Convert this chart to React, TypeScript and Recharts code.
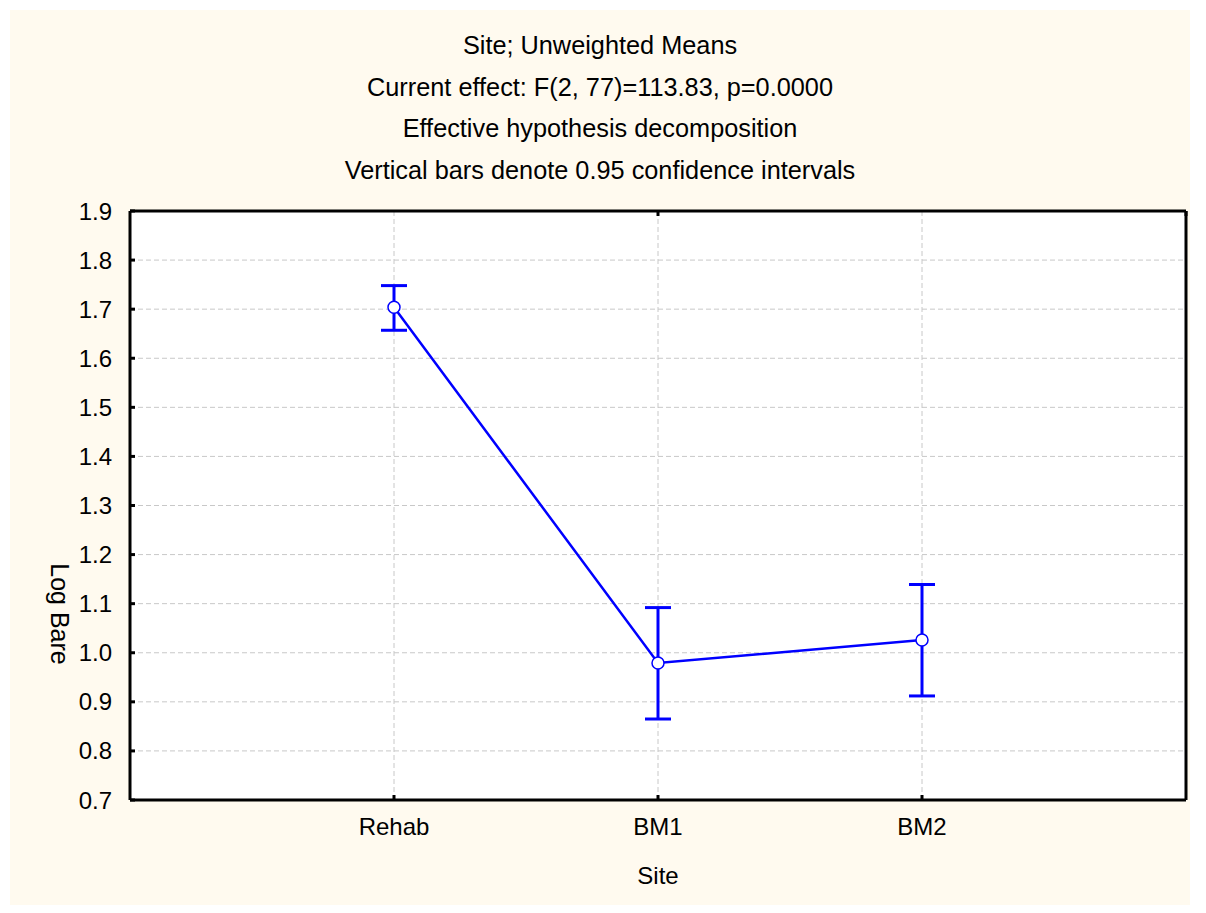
import React from 'react';
import { ComposedChart, Line, XAxis, YAxis, CartesianGrid, ErrorBar } from 'recharts';

// Unweighted means of Log Bare by site, with 0.95 confidence limits
const sites = ['Rehab', 'BM1', 'BM2'];
const sitePositions = [1, 2, 3];
const means = [1.704, 0.979, 1.026];
const lowerCI = [1.657, 0.865, 0.912];
const upperCI = [1.748, 1.092, 1.139];
const yTicks = [0.7, 0.8, 0.9, 1.0, 1.1, 1.2, 1.3, 1.4, 1.5, 1.6, 1.7, 1.8, 1.9];
const titleLines = [
  'Site; Unweighted Means',
  'Current effect: F(2, 77)=113.83, p=0.0000',
  'Effective hypothesis decomposition',
  'Vertical bars denote 0.95 confidence intervals',
];

const data = sites.map((site, i) => ({
  pos: sitePositions[i],
  site,
  mean: means[i],
  ci: [means[i] - lowerCI[i], upperCI[i] - means[i]],
}));

const FONT = '"Liberation Sans", Arial, Helvetica, sans-serif';
const BLUE = '#0000ff';
const tickStyle = { fill: '#000', fontSize: 24, fontFamily: FONT };
const emptyTick = () => <g />;

export default function App() {
  return (
    <div style={{ position: 'relative', margin: -8, width: 1206, height: 913, background: '#fff', fontFamily: FONT }}>
      <div style={{ position: 'absolute', left: 10, top: 10, width: 1180, height: 903, background: '#fffaef' }} />
      {titleLines.map((t, i) => (
        <div
          key={t}
          style={{
            position: 'absolute',
            left: 10,
            width: 1180,
            top: 31 + i * 41.7,
            height: 28,
            lineHeight: '28px',
            textAlign: 'center',
            fontSize: 25.3,
            color: '#000',
          }}
        >
          {t}
        </div>
      ))}
      <div
        style={{
          position: 'absolute',
          left: 0,
          top: 614 - 14,
          width: 120,
          height: 28,
          lineHeight: '28px',
          textAlign: 'center',
          fontSize: 25,
          color: '#000',
          transform: 'rotate(90deg)',
        }}
      >
        Log Bare
      </div>
      <div style={{ position: 'absolute', left: 0, top: 0 }}>
        <ComposedChart width={1206} height={913} data={data} margin={{ top: 210, right: 19, bottom: 112, left: 129 }}>
          <CartesianGrid stroke="#c8c8c8" strokeDasharray="5 3" fill="#ffffff" fillOpacity={1} />
          <XAxis
            dataKey="pos"
            type="number"
            domain={[0, 4]}
            ticks={sitePositions}
            tickFormatter={(v: number) => sites[v - 1]}
            height={1}
            stroke="#000"
            axisLine={{ stroke: '#000', strokeWidth: 3 }}
            tickLine={{ stroke: '#000', strokeWidth: 3 }}
            tickSize={-5}
            tickMargin={23}
            tick={tickStyle}
            label={{ value: 'Site', position: 'bottom', offset: 66, fill: '#000', fontSize: 24, fontFamily: FONT }}
          />
          <XAxis
            xAxisId="top"
            orientation="top"
            type="number"
            domain={[0, 4]}
            ticks={sitePositions}
            height={1}
            axisLine={{ stroke: '#000', strokeWidth: 3 }}
            tickLine={{ stroke: '#000', strokeWidth: 3 }}
            tickSize={-5}
            tick={emptyTick}
          />
          <YAxis
            type="number"
            domain={[0.7, 1.9]}
            ticks={yTicks}
            tickFormatter={(v: number) => v.toFixed(1)}
            width={1}
            axisLine={{ stroke: '#000', strokeWidth: 3 }}
            tickLine={{ stroke: '#000', strokeWidth: 3 }}
            tickSize={-5}
            tickMargin={23}
            tick={tickStyle}
          />
          <YAxis
            yAxisId="right"
            orientation="right"
            type="number"
            domain={[0.7, 1.9]}
            ticks={yTicks}
            width={1}
            axisLine={{ stroke: '#000', strokeWidth: 3 }}
            tickLine={{ stroke: '#000', strokeWidth: 3 }}
            tickSize={-5}
            tick={emptyTick}
          />
          <Line
            dataKey="mean"
            stroke={BLUE}
            strokeWidth={2.5}
            isAnimationActive={false}
            dot={{ r: 6, fill: '#fff', stroke: BLUE, strokeWidth: 1.5 }}
            activeDot={false}
          >
            <ErrorBar dataKey="ci" direction="y" width={13} stroke={BLUE} strokeWidth={3} isAnimationActive={false} />
          </Line>
        </ComposedChart>
      </div>
    </div>
  );
}
